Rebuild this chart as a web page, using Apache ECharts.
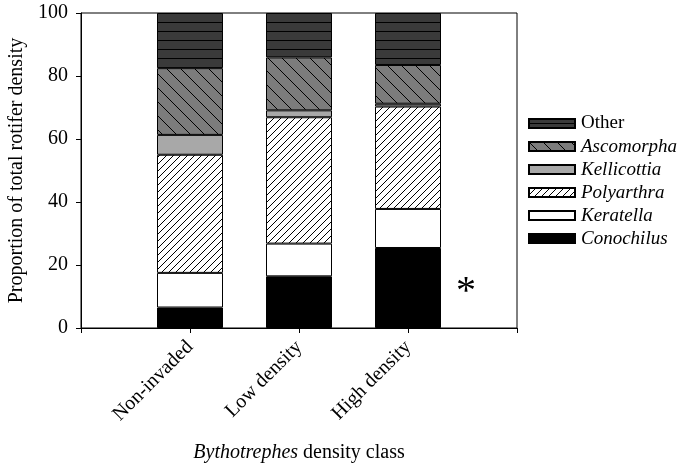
<!DOCTYPE html>
<html>
<head>
<meta charset="utf-8">
<script src="https://cdn.jsdelivr.net/npm/echarts@6/dist/echarts.min.js"></script>
<style>
html,body{margin:0;padding:0;background:#fff;}
#chart{width:681px;height:465px;}
</style>
</head>
<body>
<div id="chart"></div>
<script>
// ---- data (percent of total rotifer density) ----
const categories = ['Non-invaded', 'Low density', 'High density'];
const conochilus = [6.5, 16.4, 25.4];
const keratella  = [11.0, 10.4, 12.4];
const polyarthra = [37.5, 40.1, 32.5];
const kellicottia = [6.3, 2.2, 0.9];
const ascomorpha = [21.2, 16.8, 12.3];
const other      = [17.5, 14.1, 16.5];
const yTicks = [0, 20, 40, 60, 80, 100];

// ---- patterns ----
function makeTile(w, h, bg, draw) {
  const c = document.createElement('canvas');
  c.width = w; c.height = h;
  const g = c.getContext('2d');
  g.fillStyle = bg; g.fillRect(0, 0, w, h);
  g.strokeStyle = '#000'; g.lineWidth = 1;
  draw(g, w, h);
  return c;
}
const otherTile = makeTile(10, 9, '#3a3a3a', (g, w, h) => {
  g.beginPath(); g.moveTo(0, 4.5); g.lineTo(w, 4.5); g.stroke();
});
const ascoTile = makeTile(14, 14, '#7c7c7c', (g, w, h) => {
  g.beginPath();
  for (const k of [-w, 0, w]) { g.moveTo(k, 0); g.lineTo(k + w, h); }
  g.stroke();
});
const polyTile = makeTile(7, 7, '#ffffff', (g, w, h) => {
  g.beginPath();
  for (const k of [-w, 0, w]) { g.moveTo(k, h); g.lineTo(k + w, 0); }
  g.stroke();
});
const pat = (img) => ({ image: img, repeat: 'repeat' });

const FONT = '"Liberation Serif", "Times New Roman", serif';
const pad = (arr) => ['-'].concat(arr, ['-']);
const cats = [''].concat(categories, ['']);

function bar(name, data, color) {
  return {
    name: name, type: 'bar', stack: 'total', barWidth: 66,
    data: pad(data),
    itemStyle: { color: color, borderColor: '#000', borderWidth: 1 },
    emphasis: { disabled: true },
    animation: false
  };
}

const chart = echarts.init(document.getElementById('chart'), null, { renderer: 'canvas' });
chart.setOption({
  animation: false,
  backgroundColor: '#fff',
  textStyle: { fontFamily: FONT, color: '#000' },
  grid: { left: 81, right: 164, top: 13, bottom: 137, containLabel: false, outerBoundsMode: 'none',
    show: true, borderColor: '#000', borderWidth: 1, backgroundColor: 'transparent' },
  legend: {
    left: 523, top: 109, orient: 'vertical', icon: 'rect',
    itemWidth: 46, itemHeight: 9, itemGap: 4,
    data: ['Other', 'Ascomorpha', 'Kellicottia', 'Polyarthra', 'Keratella', 'Conochilus'],
    formatter: (n) => n === 'Other' ? n : '{i|' + n + '}',
    textStyle: { fontFamily: FONT, fontSize: 19, color: '#000', lineHeight: 19, padding: [0, 0, 0, 1],
      rich: { i: { fontStyle: 'italic', fontFamily: FONT, fontSize: 19, color: '#000', lineHeight: 19 } } },
    selectedMode: false
  },
  xAxis: {
    type: 'category', data: cats, boundaryGap: false,
    axisLine: { lineStyle: { color: '#000', width: 1 } },
    axisTick: { show: true, length: 5, lineStyle: { color: '#000' }, interval: 0 },
    axisLabel: { rotate: 45, fontSize: 20, fontFamily: FONT, color: '#000', margin: 16, interval: 0 },
    name: '{i|Bythotrephes} density class',
    nameLocation: 'middle', nameGap: 115,
    nameTextStyle: { fontSize: 20, fontFamily: FONT, color: '#000',
      rich: { i: { fontStyle: 'italic', fontSize: 20, fontFamily: FONT, color: '#000' } } },
    splitLine: { show: false }
  },
  yAxis: {
    type: 'value', min: yTicks[0], max: yTicks[yTicks.length - 1], interval: 20,
    axisLine: { show: true, lineStyle: { color: '#000', width: 1 } },
    axisTick: { show: true, length: 5, lineStyle: { color: '#000' } },
    axisLabel: { fontSize: 20, fontFamily: FONT, color: '#000', margin: 13 },
    splitLine: { show: false },
    name: 'Proportion of total rotifer density',
    nameLocation: 'middle', nameGap: 52,
    nameTextStyle: { fontSize: 20, fontFamily: FONT, color: '#000' }
  },
  graphic: [{
    type: 'text', left: 456, top: 272,
    style: { text: '*', font: '40px ' + FONT, fill: '#000' }
  }],
  series: [
    bar('Conochilus', conochilus, '#000000'),
    bar('Keratella', keratella, '#ffffff'),
    bar('Polyarthra', polyarthra, pat(polyTile)),
    bar('Kellicottia', kellicottia, '#a8a8a8'),
    bar('Ascomorpha', ascomorpha, pat(ascoTile)),
    bar('Other', other, pat(otherTile))
  ]
});
</script>
</body>
</html>
